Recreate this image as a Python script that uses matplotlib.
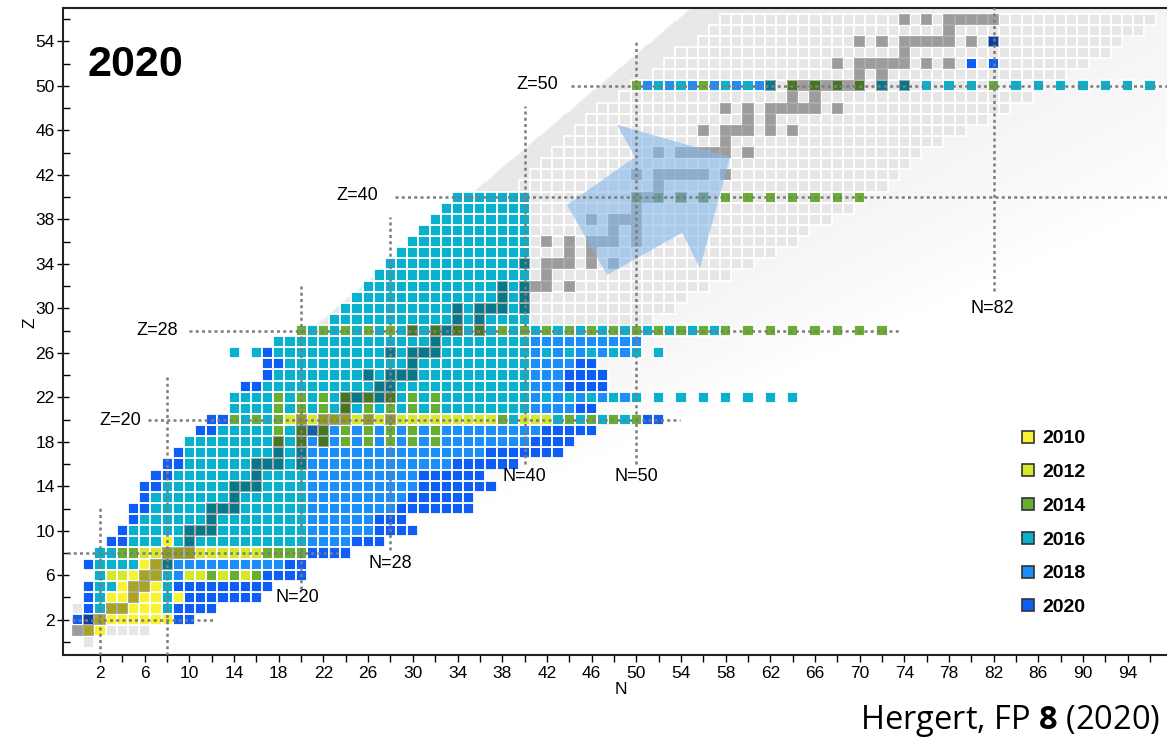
import numpy as np
import matplotlib.pyplot as plt
from matplotlib.patches import Rectangle, Polygon
from matplotlib.collections import PatchCollection
from matplotlib.lines import Line2D

plt.rcParams['font.family'] = ['Liberation Sans', 'DejaVu Sans']
plt.rcParams['mathtext.fontset'] = 'custom'
plt.rcParams['mathtext.bf'] = 'Open Sans:bold'
plt.rcParams['mathtext.rm'] = 'Open Sans'

years = ['2010', '2012', '2014', '2016', '2018', '2020']
year_colors = ['#f8f230', '#d5e82c', '#68ae30', '#08b2cf', '#1b8efa', '#0d5df6']
GRAY = '#e6e6e6'

# computed nuclei, (Z, first N, last N, step)
seg_2016 = [
    (3, 2, 2, 1), (3, 8, 8, 1), (4, 2, 2, 1), (4, 8, 8, 1), (5, 2, 3, 1), (5, 8, 8, 1),
    (6, 2, 2, 1), (6, 8, 8, 1), (7, 2, 5, 1), (7, 8, 8, 1), (8, 2, 3, 1),
    (9, 5, 20, 1), (10, 5, 20, 1), (11, 6, 20, 1), (12, 7, 20, 1), (13, 7, 20, 1),
    (14, 8, 20, 1), (15, 9, 20, 1), (16, 10, 20, 1), (17, 10, 20, 1), (18, 10, 20, 1),
    (19, 13, 20, 1), (20, 15, 17, 2), (20, 39, 39, 1), (20, 43, 49, 2),
    (21, 14, 40, 1), (22, 14, 40, 1), (22, 42, 64, 2), (23, 17, 40, 1), (24, 18, 40, 1),
    (25, 19, 40, 1), (26, 14, 14, 1), (26, 16, 40, 1), (26, 42, 52, 2), (27, 18, 40, 1),
    (28, 21, 57, 2),
    (29, 23, 40, 1), (30, 24, 40, 1), (31, 25, 40, 1), (32, 26, 40, 1), (33, 27, 40, 1),
    (34, 28, 40, 1), (35, 29, 40, 1), (36, 30, 40, 1), (37, 31, 40, 1), (38, 32, 40, 1),
    (39, 33, 40, 1), (40, 34, 40, 1),
    (50, 52, 62, 2), (50, 72, 80, 2), (50, 84, 96, 2),
]
seg_2018 = [
    (6, 9, 9, 1), (7, 9, 18, 1), (9, 21, 24, 1), (10, 21, 26, 1), (11, 21, 26, 1),
    (12, 21, 28, 1), (13, 21, 29, 1), (14, 21, 30, 1), (15, 21, 30, 1), (16, 21, 33, 1),
    (17, 21, 36, 1), (18, 21, 40, 1), (19, 21, 41, 1), (21, 41, 44, 1), (22, 41, 49, 2),
    (23, 41, 43, 1), (24, 41, 43, 1), (25, 41, 44, 1), (26, 41, 49, 2), (27, 41, 50, 1),
    (50, 51, 61, 2),
]
seg_2020 = [
    (2, 0, 1, 1), (2, 9, 10, 1), (3, 1, 1, 1), (3, 9, 12, 1), (4, 1, 1, 1), (4, 10, 16, 1),
    (5, 1, 1, 1), (5, 9, 17, 1), (6, 17, 20, 1), (7, 1, 1, 1), (7, 19, 20, 1), (8, 21, 24, 1),
    (9, 3, 4, 1), (9, 25, 27, 1), (10, 4, 4, 1), (10, 27, 30, 1), (11, 5, 5, 1), (11, 27, 29, 1),
    (12, 5, 6, 1), (12, 29, 35, 1), (13, 6, 6, 1), (13, 30, 35, 1), (14, 6, 7, 1), (14, 31, 37, 1),
    (15, 7, 8, 1), (15, 31, 36, 1), (16, 8, 9, 1), (16, 34, 39, 1), (17, 9, 9, 1), (17, 37, 43, 1),
    (18, 41, 44, 1), (19, 11, 12, 1), (19, 42, 46, 1), (20, 12, 13, 1), (20, 51, 52, 1),
    (21, 45, 46, 1), (23, 15, 16, 1), (23, 44, 47, 1), (24, 17, 17, 1), (24, 44, 47, 1),
    (25, 17, 18, 1), (25, 45, 46, 1), (26, 17, 17, 1),
    (52, 80, 82, 2), (54, 82, 82, 1),
]
seg_2014 = [
    (6, 12, 16, 2), (8, 4, 5, 1), (8, 17, 20, 1),
    (18, 18, 32, 2), (19, 18, 32, 2), (20, 14, 18, 2), (20, 38, 38, 1), (20, 44, 50, 2),
    (21, 18, 32, 2), (22, 18, 32, 2), (28, 20, 72, 2), (40, 50, 70, 2),
    (50, 50, 50, 1), (50, 56, 56, 1), (50, 64, 70, 2), (50, 82, 82, 1),
]
seg_2012 = [
    (6, 3, 4, 1), (6, 10, 11, 1), (6, 13, 15, 2), (8, 6, 16, 1), (20, 19, 37, 1), (20, 40, 42, 1),
]
seg_2010 = [
    (1, 1, 2, 1), (2, 2, 8, 1), (3, 3, 7, 1), (4, 3, 7, 1), (4, 9, 9, 1), (5, 4, 7, 1),
    (6, 5, 7, 1), (7, 6, 7, 1), (9, 8, 8, 1),
]

# known nuclei (light grey) per Z
known_Z = list(range(29, 57))
known_lo = [41] * 12 + [40, 41, 42, 43, 44, 45, 46, 47, 49, 50, 52, 53, 54, 56, 57, 58]
known_hi = [51, 53, 54, 56, 58, 60, 62, 64, 65, 67, 69, 70,
            72, 73, 74, 75, 77, 79, 81, 83, 85, 82, 88, 90, 92, 93, 95, 96]
known_extra = [(0, 1), (1, 3), (1, 4), (1, 5), (1, 6), (3, 0)]

# stable nuclei (Z, N list)
stable = [
    (1, [0, 1]), (2, [1, 2]), (3, [3, 4]), (4, [5]), (5, [5, 6]), (6, [6, 7]), (7, [7, 8]),
    (8, [8, 9, 10]), (9, [10]), (10, [10, 11, 12]), (11, [12]), (12, [12, 13, 14]), (13, [14]),
    (14, [14, 15, 16]), (15, [16]), (16, [16, 17, 18, 20]), (17, [18, 20]), (18, [18, 20, 22]),
    (19, [20, 21, 22]), (20, [20, 22, 23, 24, 26, 28]), (21, [24]), (22, [24, 25, 26, 27, 28]),
    (23, [27, 28]), (24, [26, 28, 29, 30]), (25, [30]), (26, [28, 30, 31, 32]), (27, [32]),
    (28, [30, 32, 33, 34, 36]), (29, [34, 36]), (30, [34, 36, 37, 38, 40]), (31, [38, 40]),
    (32, [38, 40, 41, 42, 44]), (33, [42]), (34, [40, 42, 43, 44, 46, 48]), (35, [44, 46]),
    (36, [42, 44, 46, 47, 48, 50]), (37, [48, 50]), (38, [46, 48, 49, 50]), (39, [50]),
    (40, [50, 51, 52, 54, 56]), (41, [52]), (42, [50, 52, 53, 54, 55, 56, 58]),
    (44, [52, 54, 55, 56, 57, 58, 60]), (45, [58]), (46, [56, 58, 59, 60, 62, 64]), (47, [60, 62]),
    (48, [58, 60, 62, 63, 64, 65, 66, 68]), (49, [64, 66]),
    (50, [62, 64, 65, 66, 67, 68, 69, 70, 72, 74]), (51, [70, 72]),
    (52, [68, 70, 71, 72, 73, 74, 76, 78]), (53, [74]),
    (54, [70, 72, 74, 75, 76, 77, 78, 80, 82]), (55, [78]), (56, [74, 76, 78, 79, 80, 81, 82]),
]

# magic number guide lines
h_lines = [(2, -0.5, 12.3), (8, -1.0, 23.6), (20, 6.3, 53.9), (28, 10.0, 73.7), (40, 28.4, 99), (50, 44.2, 99)]
v_lines = [(2, -1.2, 12.2), (8, -1.2, 23.8), (20, 4.8, 32.2), (28, 8.3, 38.2), (40, 16.0, 48.2),
           (50, 16.0, 54.1), (82, 31.6, 57.5)]
z_labels = [('Z=20', 5.7, 19.9), ('Z=28', 9.0, 28.0), ('Z=40', 26.9, 40.1), ('Z=50', 43.0, 50.1)]
n_labels = [('N=20', 19.7, 4.0), ('N=28', 28.0, 7.1), ('N=40', 40.0, 14.9), ('N=50', 50.0, 14.9),
            ('N=82', 81.9, 30.0)]

arrow_N = [43.8, 49.9, 48.3, 58.4, 55.7, 54.1, 47.4]
arrow_Z = [39.3, 43.6, 46.5, 43.6, 33.6, 36.8, 33.0]

fig = plt.figure(figsize=(11.67, 7.38), dpi=100)
ax = fig.add_axes([63 / 1167, 83 / 738, 1120 / 1167, 647 / 738])
xmin, xmax, ymin, ymax = -1.32, 98.95, -1.17, 57.0
ax.set_xlim(xmin, xmax)
ax.set_ylim(ymin, ymax)

# grey shadow band behind the chart
gn, gz = np.meshgrid(np.linspace(xmin, xmax, 700), np.linspace(ymin, ymax, 450))
z_up = 29.0 + 0.85 * (gn - 21.9)
z_low = 13 + 0.45 * (gn - 38)
z_solid = z_up - 7
f = np.clip((gz - z_low) / np.maximum(z_solid - z_low, 1e-3), 0, 1)
f[gz > z_up] = 0
s = (gn + 0.85 * gz) / 1.31
f *= np.clip((s - 31.6) / 4, 0, 1)
shade = 1 - 0.09 * f ** 0.8
ax.imshow(np.dstack([shade] * 3), extent=(xmin, xmax, ymin, ymax), origin='lower',
          aspect='auto', zorder=0, interpolation='bilinear')

cells = {}
for z, lo, hi in zip(known_Z, known_lo, known_hi):
    for n in range(lo, hi + 1):
        cells[(n, z)] = GRAY
for z, n in known_extra:
    cells[(n, z)] = GRAY
for segs, col in [(seg_2016, year_colors[3]), (seg_2018, year_colors[4]), (seg_2020, year_colors[5]),
                  (seg_2014, year_colors[2]), (seg_2012, year_colors[1]), (seg_2010, year_colors[0])]:
    for z, n0, n1, st in segs:
        for n in range(n0, n1 + 1, st):
            cells[(n, z)] = col
for z, ns in stable:
    for n in ns:
        cells.setdefault((n, z), GRAY)

rects = [Rectangle((n - 0.5, z - 0.5), 1, 1) for (n, z) in cells]
pc = PatchCollection(rects, facecolors=list(cells.values()), edgecolors='white',
                     linewidths=1.3, zorder=2)
ax.add_collection(pc)

st_rects = [Rectangle((n - 0.5, z - 0.5), 1, 1) for z, ns in stable for n in ns]
ax.add_collection(PatchCollection(st_rects, facecolors='black', alpha=0.32,
                                  edgecolors='none', zorder=2.5))

ax.add_patch(Polygon(list(zip(arrow_N, arrow_Z)), closed=True, facecolor='#86b9ea',
                     alpha=0.6, edgecolor='none', zorder=3))

dots = dict(color='#7c7c7c', lw=1.8, ls=(0, (1.2, 1.3)), zorder=4, clip_on=True)
for z, n0, n1 in h_lines:
    ax.plot([n0, n1], [z, z], **dots)
for n, z0, z1 in v_lines:
    ax.plot([n, n], [z0, z1], **dots)
for txt, x, y in z_labels:
    ax.text(x, y, txt, ha='right', va='center', fontsize=13, zorder=5)
for txt, x, y in n_labels:
    ax.text(x, y, txt, ha='center', va='center', fontsize=13, zorder=5)

ax.text(0.0223, 0.895, '2020', transform=ax.transAxes, fontsize=31, fontweight='bold',
        va='baseline', ha='left')

ax.set_xticks(np.arange(2, 97, 4))
ax.set_xticks(np.arange(4, 97, 4), minor=True)
ax.set_yticks(np.arange(2, 57, 4))
ax.set_yticks(np.arange(0, 57, 4), minor=True)
ax.tick_params(axis='x', which='both', direction='out', length=5, width=1, labelsize=12.5, pad=3)
ax.tick_params(axis='y', which='major', direction='inout', length=8, width=1, labelsize=12.5, pad=2)
ax.tick_params(axis='y', which='minor', direction='in', length=5, width=1)
for side in ['left', 'bottom', 'top']:
    ax.spines[side].set_linewidth(1.5)
    ax.spines[side].set_color('#222222')
ax.spines['right'].set_visible(False)

fig.text(621 / 1167, 1 - 690 / 738, 'N', ha='center', va='center', fontsize=12.5)
fig.text(30 / 1167, 1 - 323 / 738, 'Z', ha='center', va='center', fontsize=12.5, rotation=90)

handles = [Line2D([], [], ls='none', marker='s', ms=8.5, mfc=c, mec='#333333', mew=1.2)
           for c in year_colors]
ax.legend(handles, years, loc='upper left', bbox_to_anchor=((1010 - 63) / 1120, (655 - 420) / 647),
          frameon=False, prop=dict(weight='bold', size=14), handlelength=0.8,
          handletextpad=0.35, labelspacing=0.83, borderpad=0)

fig.text(1160 / 1167, 1 - 729 / 738, r'Hergert, FP $\mathbf{8}$ (2020)', ha='right', va='baseline',
         fontsize=23.5, family='Open Sans')

fig.savefig('out.png', dpi=100)
